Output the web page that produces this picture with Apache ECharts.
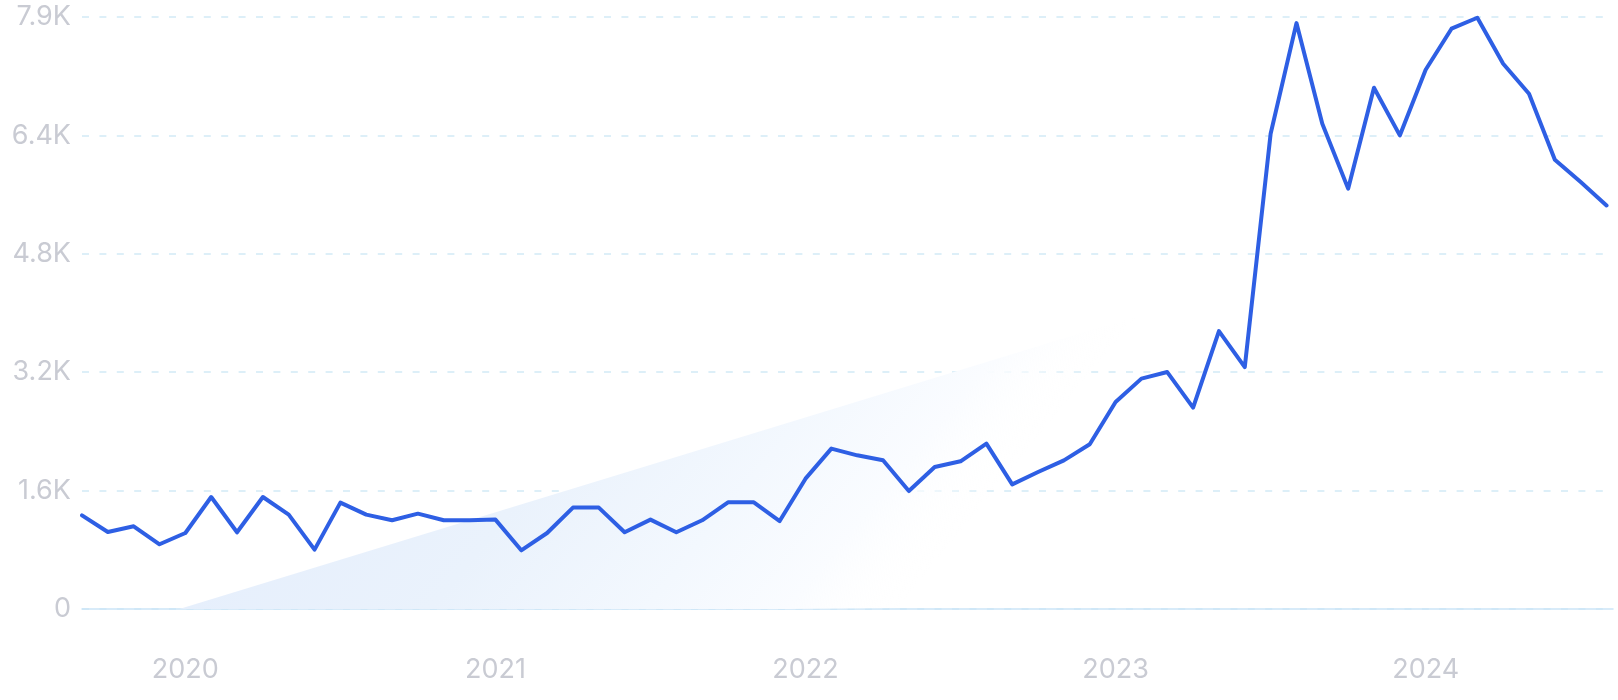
<!DOCTYPE html>
<html>
<head>
<meta charset="utf-8">
<script src="https://cdn.jsdelivr.net/npm/echarts@6/dist/echarts.min.js"></script>
<style>
  html, body { margin: 0; padding: 0; background: #ffffff; }
  #chart { width: 1618px; height: 700px; }
</style>
</head>
<body>
<div id="chart"></div>
<script>
// Monthly categories, Sep 2019 .. Aug 2024
var months = [];
(function () {
  var y = 2019, m = 9;
  for (var i = 0; i < 60; i++) {
    months.push(y + '-' + (m < 10 ? '0' + m : m));
    m++; if (m > 12) { m = 1; y++; }
  }
})();

var searchVolume = [
  1256, 1033, 1109, 868, 1019, 1502, 1029, 1502, 1266, 796, 1427, 1266,
  1190, 1279, 1190, 1190, 1199, 787, 1019, 1360, 1360, 1029, 1199, 1029,
  1190, 1431, 1431, 1180, 1748, 2151, 2061, 1994, 1582, 1904, 1981, 2218,
  1672, 1837, 1994, 2209, 2776, 3090, 3178, 2700, 3728, 3245, 6375, 7858,
  6509, 5638, 6992, 6352, 7233, 7783, 7930, 7313, 6911, 6026, 5726, 5413
];

// decorative trend wedge (x in month index, y in value)
var trendPoints = [[3.77, 0], [41.3, 3980]];

var yearLabels = ['2020', '2021', '2022', '2023', '2024'];
var yMax = 7940;
var yInterval = 1588;

var lineData = searchVolume.map(function (v, i) { return [i, v]; });

var chart = echarts.init(document.getElementById('chart'), null, { renderer: 'canvas' });
chart.setOption({
  animation: false,
  grid: { left: 82, right: 5, top: 17, bottom: 91, containLabel: false },
  xAxis: {
    type: 'value',
    min: 0,
    max: 59.25,
    interval: 4,
    axisLine: { show: true, lineStyle: { color: '#cbe5f7', width: 1.5 } },
    axisTick: { show: false },
    splitLine: { show: false },
    axisLabel: {
      margin: 47,
      color: '#c9cbd3',
      fontFamily: 'Inter',
      fontSize: 27,
      showMaxLabel: false,
      formatter: function (v) {
        var i = Math.round(v);
        if (Math.abs(v - i) > 1e-6) return '';
        var mo = months[i];
        if (mo && mo.slice(5) === '01') {
          var y = mo.slice(0, 4);
          return yearLabels.indexOf(y) >= 0 ? y : '';
        }
        return '';
      }
    }
  },
  yAxis: {
    type: 'value',
    min: 0,
    max: yMax,
    interval: yInterval,
    axisLine: { show: false },
    axisTick: { show: false },
    splitLine: { show: true, lineStyle: { color: '#d2eaf6', width: 1.5, type: [7, 10.4] } },
    axisLabel: {
      margin: 11,
      color: '#c9cbd3',
      fontFamily: 'Inter',
      fontSize: 27,
      showMaxLabel: true,
      formatter: function (v) {
        if (v === 0) return '0';
        return (v / 1000).toFixed(1) + 'K';
      }
    }
  },
  series: [
    {
      type: 'line',
      data: trendPoints,
      symbol: 'none',
      silent: true,
      z: 1,
      lineStyle: { width: 0, opacity: 0 },
      areaStyle: {
        opacity: 1,
        color: new echarts.graphic.LinearGradient(0, 1, 0.442, 2.185, [
          { offset: 0, color: 'rgba(230,239,252,1)' },
          { offset: 0.35, color: 'rgba(234,242,252,1)' },
          { offset: 0.65, color: 'rgba(243,248,254,1)' },
          { offset: 0.85, color: 'rgba(250,252,255,1)' },
          { offset: 1, color: 'rgba(255,255,255,0)' }
        ])
      }
    },
    {
      type: 'line',
      data: lineData,
      symbol: 'none',
      z: 3,
      lineStyle: { color: '#2e5fe4', width: 4, join: 'round', cap: 'round' }
    }
  ]
});
</script>
</body>
</html>
